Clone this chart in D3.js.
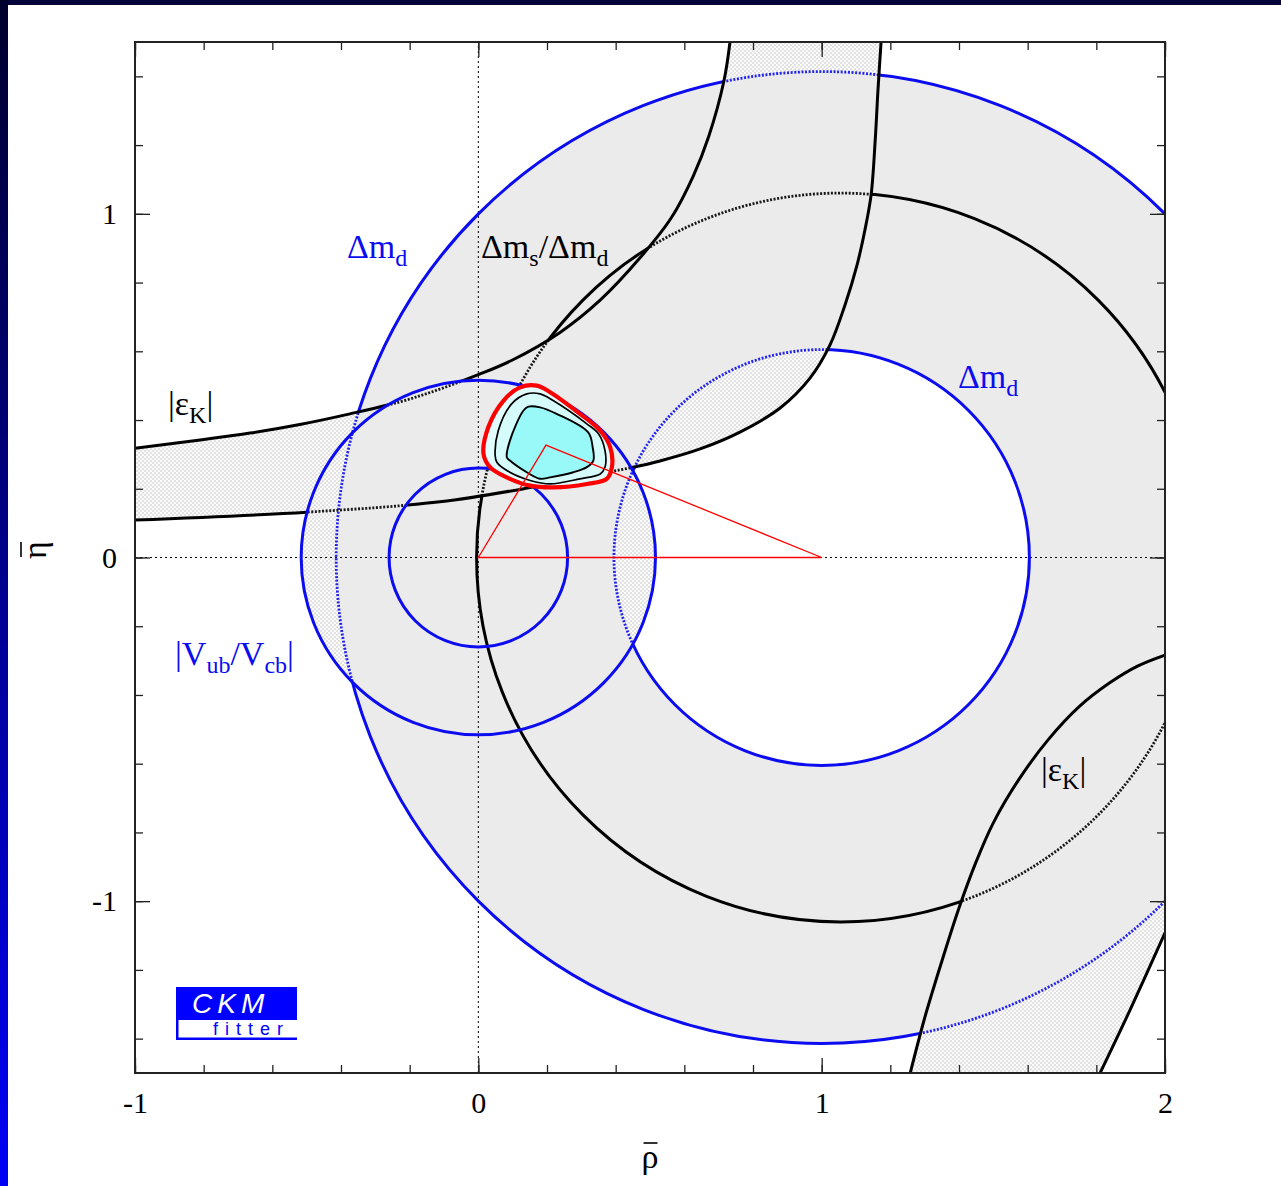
<!DOCTYPE html>
<html>
<head>
<meta charset="utf-8">
<script src="https://cdn.jsdelivr.net/npm/d3@7"></script>
<style>
  body { margin: 0; background: #fff; }
  svg { display: block; }
</style>
</head>
<body>
<svg id="chart" width="1281" height="1186"></svg>
<script>
// ---- axis ranges and ticks ----
const rhoDomain = [-1, 2];
const etaDomain = [-1.5, 1.5];
const rhoMajor = [-1, 0, 1, 2];
const etaMajor = [-1, 0, 1];
const rhoMinor = d3.range(-5, 11).map(i => i / 5);
const etaMinor = d3.range(-7, 8).map(i => i / 5);

// ---- circular constraints (centre on the rho axis, radii) ----
const dmdCentre = 1;
const dmdRadii = [0.605, 1.414];
const vubCentre = 0;
const vubRadii = [0.26, 0.516];
const dmsCentre = 1.055;
const dmsRadius = 1.06;

// ---- |eps_K| band: upper branch (two edges) and lower branch (two edges) ----
const epsUpper = [[-1, 0.318], [-0.81, 0.342], [-0.665, 0.362], [-0.52, 0.387], [-0.374, 0.418],
  [-0.228, 0.453], [-0.112, 0.49], [0, 0.532], [0.098, 0.574], [0.238, 0.655], [0.354, 0.748],
  [0.471, 0.872], [0.563, 0.99], [0.626, 1.11], [0.671, 1.225], [0.715, 1.385], [0.733, 1.5]];
const epsLower = [[-1, 0.109], [-0.499, 0.132], [-0.112, 0.162], [0.142, 0.202], [0.296, 0.233],
  [0.448, 0.262], [0.529, 0.281], [0.646, 0.316], [0.762, 0.365], [0.879, 0.435], [0.966, 0.522],
  [1.024, 0.618], [1.068, 0.735], [1.103, 0.851], [1.126, 0.953], [1.144, 1.055], [1.156, 1.215],
  [1.164, 1.36], [1.173, 1.5]];
const epsBranchA = [[1.258, -1.5], [1.30, -1.34], [1.35, -1.175], [1.40, -1.02], [1.45, -0.885],
  [1.50, -0.772], [1.575, -0.645], [1.66, -0.53], [1.75, -0.434], [1.84, -0.364],
  [1.92, -0.316], [2, -0.284]];
const epsBranchB = [[1.811, -1.5], [1.898, -1.317], [2, -1.092]];

// ---- global fit confidence contours ----
const cl95 = [[0.015, 0.302], [0.029, 0.379], [0.073, 0.456], [0.122, 0.495], [0.170, 0.500],
  [0.209, 0.481], [0.296, 0.418], [0.355, 0.369], [0.384, 0.321], [0.389, 0.263], [0.374, 0.229],
  [0.316, 0.214], [0.219, 0.204], [0.151, 0.209], [0.083, 0.233], [0.034, 0.263]];
const clMid = [[0.049, 0.297], [0.058, 0.369], [0.097, 0.447], [0.141, 0.476], [0.180, 0.476],
  [0.219, 0.456], [0.316, 0.389], [0.350, 0.360], [0.369, 0.311], [0.369, 0.263], [0.355, 0.243],
  [0.296, 0.229], [0.209, 0.214], [0.151, 0.224], [0.083, 0.253], [0.054, 0.277]];
const clInner = [[0.083, 0.292], [0.092, 0.340], [0.131, 0.427], [0.146, 0.439], [0.180, 0.437],
  [0.228, 0.418], [0.320, 0.364], [0.333, 0.321], [0.335, 0.282], [0.316, 0.263], [0.277, 0.248],
  [0.209, 0.233], [0.180, 0.229], [0.141, 0.248], [0.092, 0.282]];

// ---- unitarity triangle ----
const triangle = [[0, 0], [1, 0], [0.197, 0.327]];

// ---- drawing ----
const W = 1281, H = 1186;
const svg = d3.select('#chart');
const defs = svg.append('defs');
const x = d3.scaleLinear().domain(rhoDomain).range([135, 1165]);
const y = d3.scaleLinear().domain(etaDomain).range([1073, 42]);
const serif = '"Liberation Serif", "Times New Roman", serif';
const sans = '"Liberation Sans", Arial, sans-serif';
const BLUE = '#0c0cf0';

// page decoration: dark top strip and blue side strip
const grad = defs.append('linearGradient').attr('id', 'sideGrad')
  .attr('x1', 0).attr('y1', 0).attr('x2', 0).attr('y2', 1);
grad.append('stop').attr('offset', 0).attr('stop-color', '#00002c');
grad.append('stop').attr('offset', 1).attr('stop-color', '#0000f6');
svg.append('rect').attr('width', W).attr('height', H).attr('fill', '#fff');
svg.append('rect').attr('width', W).attr('height', 5).attr('fill', '#04043a');
svg.append('rect').attr('width', 8).attr('height', H).attr('fill', 'url(#sideGrad)');

// hatch used for the constraints shown outside the Delta m_d ring
const pat = defs.append('pattern').attr('id', 'hatch').attr('patternUnits', 'userSpaceOnUse')
  .attr('width', 4).attr('height', 4);
pat.append('rect').attr('width', 4).attr('height', 4).attr('fill', '#e2e2e2');
pat.append('circle').attr('cx', 1).attr('cy', 1).attr('r', 1.1).attr('fill', '#fff');
pat.append('circle').attr('cx', 3).attr('cy', 3).attr('r', 1.1).attr('fill', '#fff');

defs.append('clipPath').attr('id', 'plotArea').append('rect')
  .attr('x', x(rhoDomain[0])).attr('y', y(etaDomain[1]))
  .attr('width', x(rhoDomain[1]) - x(rhoDomain[0])).attr('height', y(etaDomain[0]) - y(etaDomain[1]));

const line = d3.line().x(d => x(d[0])).y(d => y(d[1])).curve(d3.curveCatmullRom.alpha(0.5));
const loop = d3.line().x(d => x(d[0])).y(d => y(d[1])).curve(d3.curveCatmullRomClosed.alpha(0.5));

function circlePath(c, r) {
  const cx = x(c), cy = y(0), rx = x(c + r) - cx, ry = cy - y(r);
  return `M${cx + rx},${cy}A${rx},${ry} 0 1 0 ${cx - rx},${cy}A${rx},${ry} 0 1 0 ${cx + rx},${cy}Z`;
}
function band(edge1, edge2) {
  return line(edge1) + line(edge2.slice().reverse()).replace(/^M/, 'L') + 'Z';
}

const epsPath = band(epsUpper, epsLower) + band(epsBranchA, epsBranchB);
const vubPath = circlePath(vubCentre, vubRadii[0]) + circlePath(vubCentre, vubRadii[1]);
const dmdPath = circlePath(dmdCentre, dmdRadii[0]) + circlePath(dmdCentre, dmdRadii[1]);

// masks/clips: a contour edge lying under another hatched constraint shows up dotted
function makeMask(id, paths) {
  const m = defs.append('mask').attr('id', id).attr('maskUnits', 'userSpaceOnUse')
    .attr('x', 0).attr('y', 0).attr('width', W).attr('height', H);
  m.append('rect').attr('width', W).attr('height', H).attr('fill', '#fff');
  paths.forEach(p => m.append('path').attr('d', p).attr('fill', '#000').attr('fill-rule', 'evenodd'));
}
function makeClip(id, paths) {
  const c = defs.append('clipPath').attr('id', id);
  paths.forEach(p => c.append('path').attr('d', p).attr('clip-rule', 'evenodd'));
}
makeMask('outEps', [epsPath]);
makeClip('inEps', [epsPath]);
makeMask('outVub', [vubPath]);
makeClip('inVub', [vubPath]);
makeMask('outEpsVub', [epsPath, vubPath]);
makeClip('inEpsVub', [epsPath, vubPath]);

const plot = svg.append('g').attr('clip-path', 'url(#plotArea)');

// filled constraint regions
plot.append('path').attr('d', epsPath).attr('fill', 'url(#hatch)');
plot.append('path').attr('d', vubPath).attr('fill', 'url(#hatch)').attr('fill-rule', 'evenodd');
plot.append('path').attr('d', dmdPath).attr('fill', '#ebebeb').attr('fill-rule', 'evenodd');

// dotted rho=0 / eta=0 axes
plot.append('line').attr('x1', x(rhoDomain[0])).attr('x2', x(rhoDomain[1]))
  .attr('y1', y(0)).attr('y2', y(0))
  .attr('stroke', '#000').attr('stroke-width', 1).attr('stroke-dasharray', '2,3');
plot.append('line').attr('x1', x(0)).attr('x2', x(0))
  .attr('y1', y(etaDomain[0])).attr('y2', y(etaDomain[1]))
  .attr('stroke', '#000').attr('stroke-width', 1).attr('stroke-dasharray', '2,3');

function edge(d, color, cover) {
  const solid = plot.append('path').attr('d', d).attr('fill', 'none').attr('stroke', color)
    .attr('stroke-width', 3);
  if (!cover) return;
  solid.attr('mask', `url(#out${cover})`);
  plot.append('g').attr('clip-path', `url(#in${cover})`).append('path').attr('d', d)
    .attr('fill', 'none').attr('stroke', color).attr('stroke-width', 2.8)
    .attr('stroke-dasharray', '2,1.6').attr('opacity', 0.9);
}

edge(circlePath(dmsCentre, dmsRadius), '#000', 'Eps');
dmdRadii.forEach(r => edge(circlePath(dmdCentre, r), BLUE, 'EpsVub'));
[epsUpper, epsLower, epsBranchA, epsBranchB].forEach(e => edge(line(e), '#000', 'Vub'));
vubRadii.forEach(r => edge(circlePath(vubCentre, r), BLUE, null));

// fit contours
plot.append('path').attr('d', loop(cl95)).attr('fill', '#e2fdfd').attr('stroke', 'none');
plot.append('path').attr('d', loop(clMid)).attr('fill', '#d6fbfb')
  .attr('stroke', '#000').attr('stroke-width', 1.7);
plot.append('path').attr('d', loop(clInner)).attr('fill', '#99f8f8')
  .attr('stroke', '#000').attr('stroke-width', 1.9);
plot.append('path').attr('d', loop(cl95)).attr('fill', 'none')
  .attr('stroke', '#ff0000').attr('stroke-width', 4.2);

// unitarity triangle
plot.append('path').attr('d', d3.line().x(d => x(d[0])).y(d => y(d[1]))(triangle) + 'Z')
  .attr('fill', 'none').attr('stroke', '#ff0000').attr('stroke-width', 1.3);

// constraint labels
function label(px, py, parts, color) {
  const t = svg.append('text').attr('x', px).attr('y', py).attr('fill', color)
    .attr('font-family', serif).attr('font-size', 34);
  let shift = 0;
  parts.forEach(p => {
    const s = t.append('tspan').text(p[0]);
    const want = p[1] ? 8 : 0;
    if (want !== shift) { s.attr('dy', want - shift); shift = want; }
    if (p[1]) s.attr('font-size', 24);
  });
}
label(347, 258, [['Δm'], ['d', 1]], BLUE);
label(481, 258, [['Δm'], ['s', 1], ['/Δm'], ['d', 1]], '#000');
label(168, 415, [['|ε'], ['K', 1], ['|']], '#000');
label(958, 388, [['Δm'], ['d', 1]], BLUE);
label(175, 665, [['|V'], ['ub', 1], ['/V'], ['cb', 1], ['|']], BLUE);
label(1041, 781, [['|ε'], ['K', 1], ['|']], '#000');

// CKMfitter logo
const logo = svg.append('g');
logo.append('rect').attr('x', 176).attr('y', 987).attr('width', 121).attr('height', 33).attr('fill', '#0000ff');
logo.append('rect').attr('x', 176).attr('y', 1020).attr('width', 2.5).attr('height', 20).attr('fill', '#0000ff');
logo.append('rect').attr('x', 176).attr('y', 1037.5).attr('width', 121).attr('height', 2.5).attr('fill', '#0000ff');
logo.append('text').attr('x', 192).attr('y', 1013).text('CKM')
  .attr('font-family', sans).attr('font-style', 'italic').attr('font-size', 28)
  .attr('letter-spacing', 5).attr('fill', '#fff');
logo.append('text').attr('x', 213).attr('y', 1035).text('fitter')
  .attr('font-family', sans).attr('font-size', 18).attr('letter-spacing', 7).attr('fill', '#0000ff');

// frame and ticks
function styleAxis(g) {
  g.select('.domain').remove();
  g.selectAll('.tick line').attr('stroke', '#222').attr('stroke-width', 1.3);
  g.selectAll('.tick text').attr('font-family', serif).attr('font-size', 30).attr('fill', '#000');
}
const xb = y(etaDomain[0]), xt = y(etaDomain[1]), yl = x(rhoDomain[0]), yr = x(rhoDomain[1]);
svg.append('g').attr('transform', `translate(0,${xb})`)
  .call(d3.axisBottom(x).tickValues(rhoMinor).tickSize(-8).tickFormat(''))
  .call(styleAxis);
svg.append('g').attr('transform', `translate(0,${xb})`)
  .call(d3.axisBottom(x).tickValues(rhoMajor).tickSize(-15).tickPadding(19).tickFormat(d3.format('d')))
  .call(styleAxis);
svg.append('g').attr('transform', `translate(0,${xt})`)
  .call(d3.axisTop(x).tickValues(rhoMinor).tickSize(-8).tickFormat(''))
  .call(styleAxis);
svg.append('g').attr('transform', `translate(0,${xt})`)
  .call(d3.axisTop(x).tickValues(rhoMajor).tickSize(-15).tickFormat(''))
  .call(styleAxis);
svg.append('g').attr('transform', `translate(${yl},0)`)
  .call(d3.axisLeft(y).tickValues(etaMinor).tickSize(-8).tickFormat(''))
  .call(styleAxis);
svg.append('g').attr('transform', `translate(${yl},0)`)
  .call(d3.axisLeft(y).tickValues(etaMajor).tickSize(-15).tickPadding(18).tickFormat(d3.format('d')))
  .call(styleAxis);
svg.append('g').attr('transform', `translate(${yr},0)`)
  .call(d3.axisRight(y).tickValues(etaMinor).tickSize(-8).tickFormat(''))
  .call(styleAxis);
svg.append('g').attr('transform', `translate(${yr},0)`)
  .call(d3.axisRight(y).tickValues(etaMajor).tickSize(-15).tickFormat(''))
  .call(styleAxis);
svg.selectAll('.tick text').each(function () {
  const s = d3.select(this);
  if (s.text().startsWith('−')) s.text('-' + s.text().slice(1));
});
svg.append('rect').attr('x', yl).attr('y', xt).attr('width', yr - yl).attr('height', xb - xt)
  .attr('fill', 'none').attr('stroke', '#222').attr('stroke-width', 2);

// axis titles with an overbar
function barTitle(transform, txt) {
  const g = svg.append('g').attr('transform', transform);
  const t = g.append('text').attr('text-anchor', 'middle')
    .attr('font-family', serif).attr('font-size', 34).text(txt);
  const bb = t.node().getBBox();
  g.append('line').attr('x1', bb.x + 2).attr('x2', bb.x + bb.width - 1)
    .attr('y1', -25).attr('y2', -25).attr('stroke', '#000').attr('stroke-width', 1.6);
}
barTitle('translate(650,1168)', 'ρ');
barTitle('translate(46,550) rotate(-90)', 'η');
</script>
</body>
</html>
